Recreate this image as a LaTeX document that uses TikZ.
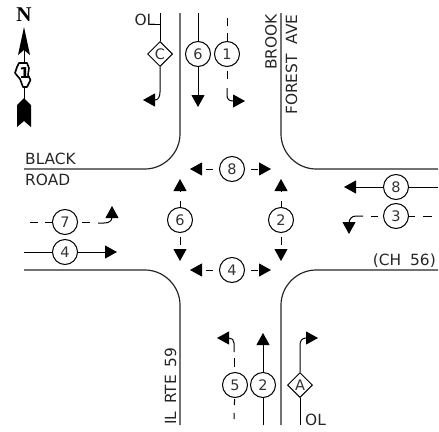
\documentclass[tikz,border=0pt]{standalone}
\usepackage{fontspec}
\setmainfont{DejaVu Sans}
\newfontfamily\nfont{Liberation Serif}
\usetikzlibrary{arrows.meta,shapes.geometric}
\tikzset{
  x=1pt,y=-1pt,
  road/.style={line width=1.2pt,draw=black!85},
  flow/.style={line width=1pt,-{Triangle[length=12pt,width=13pt]}},
  plain/.style={line width=1pt},
  dsh/.style={dash pattern=on 8pt off 7pt},
  phase/.style={circle,draw,line width=1pt,fill=white,minimum size=25pt,inner sep=0pt,font=\fontsize{14.5}{14.5}\selectfont,text=black!80},
  ovl/.style={diamond,draw,line width=1pt,fill=white,minimum size=25pt,inner sep=0pt,font=\fontsize{14.5}{14.5}\selectfont,text=black!80},
  lbl/.style={inner sep=0pt,font=\fontsize{15.4}{15.4}\selectfont,text=black!85},
}
\begin{document}
\begin{tikzpicture}
\useasboundingbox (0,0) rectangle (439,431);
% roads
\draw[road] (180,13) -- (180,134) .. controls (180,153) and (164,169) .. (145,169) -- (24,169);
\draw[road] (281,13) -- (281,134) .. controls (281,153) and (297,169) .. (316,169) -- (438,169);
\draw[road] (24,270) -- (145,270) .. controls (164,270) and (180,286) .. (180,305) -- (180,425);
\draw[road] (438,270) -- (316,270) .. controls (297,270) and (281,286) .. (281,305) -- (281,425);
% labels
\node[lbl,anchor=base west] (black) at (25,164) {BLACK};
\node[lbl,anchor=base west] (roadl) at (25,185) {ROAD};
\node[lbl,anchor=base east] (ch) at (436,265) {(CH\hspace{4pt} 56)};
\node[lbl,anchor=base west,rotate=90] (brook) at (276.5,70) {BROOK};
\node[lbl,anchor=base west,rotate=90] (forest) at (297,115) {FOREST\hspace{5pt} AVE};
\node[lbl,anchor=base west,rotate=90] (ilrte) at (176,425) {IL\hspace{3pt} RTE\hspace{3pt} 59};
% north arrow
\node[inner sep=0pt,font=\fontsize{21}{21}\bfseries\nfont] (north) at (24,14.5) {N};
\coordinate (nA) at (24,50);
\coordinate (nB) at (24,100);
\draw[line width=1pt] (nA) -- (nB);
\fill (24,27) -- (30,55) -- (24,50) -- (18,55) -- cycle;
\fill (24,98) -- (31,105) -- (31,127) -- (24,121) -- (17,127) -- (17,105) -- cycle;
\draw[line width=1.6pt,fill=white,line join=round] (19,63) -- (27,63) -- (29,68) -- (28,75) -- (30.5,80) -- (27,87) -- (23,87) -- (20,79) -- (15,73) -- (17,67) -- cycle;
\node[inner sep=0pt,font=\fontsize{15}{15}\bfseries] (shield) at (24.5,73) {1};
% top approach
\coordinate (olT) at (160,13);
\node[ovl] (C) at (160,54) {C};
\draw[plain] (olT) -- (C);
\draw[flow] (C) -- (160,92) .. controls (160,97) and (158,100) .. (155,100) -- (143,100);
\node[lbl,anchor=base east] (olt) at (155.5,25) {OL};
\draw[plain] (150,24.6) -- (160,24.6);
\coordinate (sixT) at (198,13);
\coordinate (sixB) at (198,107);
\node[phase] (p6t) at (198,54) {6};
\draw[plain] (sixT) -- (p6t);
\draw[flow] (p6t) -- (sixB);
\coordinate (oneT) at (227,18);
\node[phase] (p1) at (227,54) {1};
\draw[plain,dsh] (oneT) -- (p1);
\draw[plain,dsh] (227,71) -- (227,80);
\draw[flow] (227,88) -- (227,95) .. controls (227,99) and (229,101) .. (233,101) -- (245,101);
% left approach
\coordinate (w7) at (30,222);
\node[phase] (p7) at (65,222) {7};
\draw[plain,dsh] (w7) -- (p7);
\draw[plain] (82,222) -- (90,222);
\draw[flow] (98,223) -- (104,223) .. controls (109,223) and (112,221) .. (112,217) -- (112,206);
\coordinate (w4) at (24,252);
\coordinate (e4) at (117,252);
\node[phase] (p4w) at (65,252) {4};
\draw[plain] (w4) -- (p4w);
\draw[flow] (p4w) -- (e4);
% right approach
\coordinate (e8) at (438,187);
\coordinate (w8) at (344,187);
\node[phase] (p8e) at (396,187) {8};
\draw[plain] (e8) -- (p8e);
\draw[flow] (p8e) -- (w8);
\coordinate (e3) at (432,216);
\node[phase] (p3) at (396,216) {3};
\draw[plain,dash pattern=on 9pt off 8pt] (e3) -- (p3);
\draw[plain] (378,216) -- (371,216);
\draw[flow] (363,216) -- (356,216) .. controls (352,216) and (349,219) .. (349,223) -- (349,234);
% bottom approach
\coordinate (s5) at (234,419);
\node[phase] (p5) at (235,385) {5};
\draw[plain,dash pattern=on 6pt off 8pt] (s5) -- (p5);
\draw[plain] (234,367) -- (234,358);
\draw[flow] (234,352) -- (234,343) .. controls (234,340) and (232,338) .. (229,338) -- (217,338);
\coordinate (s2) at (263,425);
\coordinate (n2) at (263,333);
\node[phase] (p2s) at (263,385) {2};
\draw[plain] (s2) -- (p2s);
\draw[flow] (p2s) -- (n2);
\coordinate (sA) at (300,425);
\node[ovl] (A) at (300,385) {A};
\draw[plain] (sA) -- (A);
\draw[flow] (A) -- (300,345) .. controls (300,341) and (302,338) .. (306,338) -- (318,338);
\node[lbl,anchor=base west] (olb) at (305,425) {OL};
% centre
\node[phase] (c8) at (232,169) {8};
\node[phase] (c4) at (232,270) {4};
\node[phase] (c6) at (180,220) {6};
\node[phase] (c2) at (281,220) {2};
\foreach \c/\x/\y in {c8/232/169,c4/232/270}{
  \draw[plain] (\x-26,\y) -- (\x-19,\y);
  \draw[plain] (\x+19,\y) -- (\x+26,\y);
  \coordinate (\c L) at (\x-42,\y);
  \coordinate (\c R) at (\x+39,\y);
  \draw[flow] (\x-31,\y) -- (\c L);
  \draw[flow] (\x+27,\y) -- (\c R);
}
\foreach \c/\x/\y in {c6/180/220,c2/281/220}{
  \draw[plain] (\x,\y-19) -- (\x,\y-12);
  \draw[plain] (\x,\y+17) -- (\x,\y+25);
  \coordinate (\c U) at (\x,\y-41);
  \coordinate (\c D) at (\x,\y+41);
  \draw[flow] (\x,\y-29) -- (\c U);
  \draw[flow] (\x,\y+29) -- (\c D);
}
\end{tikzpicture}
\end{document}
